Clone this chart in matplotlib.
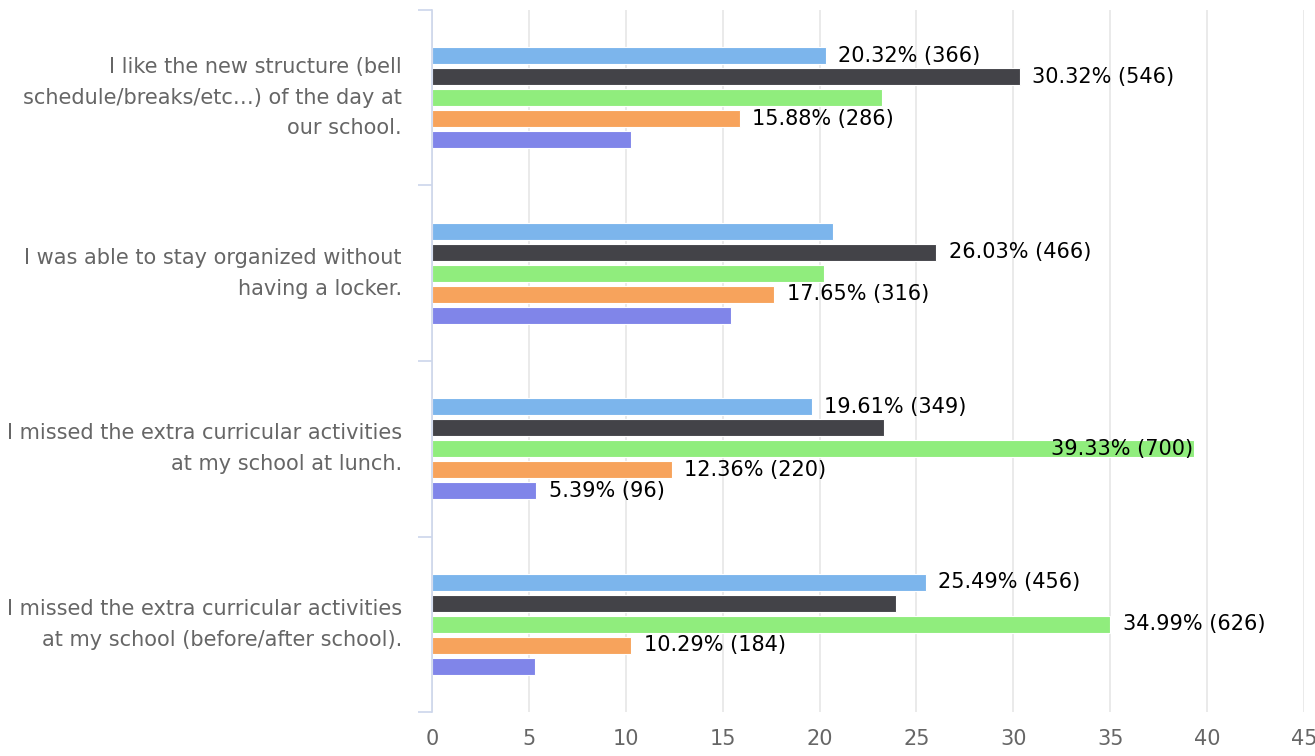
import numpy as np
import matplotlib
matplotlib.use("Agg")
import matplotlib.pyplot as plt

# survey statements (top to bottom)
categories = [
    "I like the new structure (bell\nschedule/breaks/etc…) of the day at\nour school.",
    "I was able to stay organized without\nhaving a locker.",
    "I missed the extra curricular activities\nat my school at lunch.",
    "I missed the extra curricular activities\nat my school (before/after school).",
]

# percentages per answer series (5 series), one value per statement
pct_s1 = [20.32, 20.67, 19.61, 25.49]
pct_s2 = [30.32, 26.03, 23.31, 23.92]
pct_s3 = [23.21, 20.22, 39.33, 34.99]
pct_s4 = [15.88, 17.65, 12.36, 10.29]
pct_s5 = [10.27, 15.42, 5.39, 5.31]

# response counts
cnt_s1 = [366, 370, 349, 456]
cnt_s2 = [546, 466, 415, 428]
cnt_s3 = [418, 362, 700, 626]
cnt_s4 = [286, 316, 220, 184]
cnt_s5 = [185, 276, 96, 95]

# which data labels are visible in the original (others hidden by overlap)
show_s1 = [True, False, True, True]
show_s2 = [True, True, False, False]
show_s3 = [False, False, True, True]
show_s4 = [True, True, True, True]
show_s5 = [False, False, True, False]

colors = ["#7cb5ec", "#434348", "#90ed7d", "#f7a35c", "#8085e9"]
xticks = [0, 5, 10, 15, 20, 25, 30, 35, 40, 45]

series_pct = [pct_s1, pct_s2, pct_s3, pct_s4, pct_s5]
series_cnt = [cnt_s1, cnt_s2, cnt_s3, cnt_s4, cnt_s5]
series_show = [show_s1, show_s2, show_s3, show_s4, show_s5]

fig = plt.figure(figsize=(13.15, 7.56), dpi=100)
ax = fig.add_axes([432 / 1315, 1 - 712 / 756, (1304 - 432) / 1315, 702 / 756])

y = np.arange(len(categories))
n = len(series_pct)
group = 0.6
slot = group / n
bar_h = slot * 0.8

for i in range(n):
    offs = -group / 2 + slot * (i + 0.5)
    ax.barh(y + offs, series_pct[i], height=bar_h, color=colors[i],
            edgecolor="white", linewidth=0.8, zorder=3)
    for j in range(len(categories)):
        if not series_show[i][j]:
            continue
        v = series_pct[i][j]
        txt = f"{v:.2f}% ({series_cnt[i][j]})"
        if v > 37:
            # no room to the right: put it inside the bar end
            ax.annotate(txt, (v, y[j] + offs), xytext=(-1, 0), textcoords="offset points",
                        ha="right", va="center", fontsize=15, color="black", zorder=4)
        else:
            ax.annotate(txt, (v, y[j] + offs), xytext=(9, 0), textcoords="offset points",
                        ha="left", va="center", fontsize=15, color="black", zorder=4)

# category labels drawn by hand so the line spacing / offset match
for j, lab in enumerate(categories):
    ax.annotate(lab, (0, y[j]), xytext=(-30, 0), textcoords="offset pixels",
                ha="right", va="center", multialignment="right", linespacing=1.67,
                fontsize=15, color="#666666", annotation_clip=False)

ax.set_xlim(0, 45)
ax.set_ylim(len(categories) - 0.5, -0.5)
ax.set_xticks(xticks)
ax.set_xticklabels([str(t) for t in xticks])
ax.set_yticks(np.arange(len(categories) + 1) - 0.5)
ax.set_yticklabels([])

ax.tick_params(axis="x", length=0, pad=12, labelsize=15, labelcolor="#666666")
ax.tick_params(axis="y", length=10, width=1.2, color="#ccd6eb")

ax.grid(axis="x", color="#e6e6e6", linewidth=1.2, zorder=0)
ax.set_axisbelow(True)
for s in ["top", "right", "bottom"]:
    ax.spines[s].set_visible(False)
ax.spines["left"].set_color("#ccd6eb")
ax.spines["left"].set_linewidth(1.2)
ax.spines["left"].set_zorder(5)

fig.savefig("out.png", dpi=100)
